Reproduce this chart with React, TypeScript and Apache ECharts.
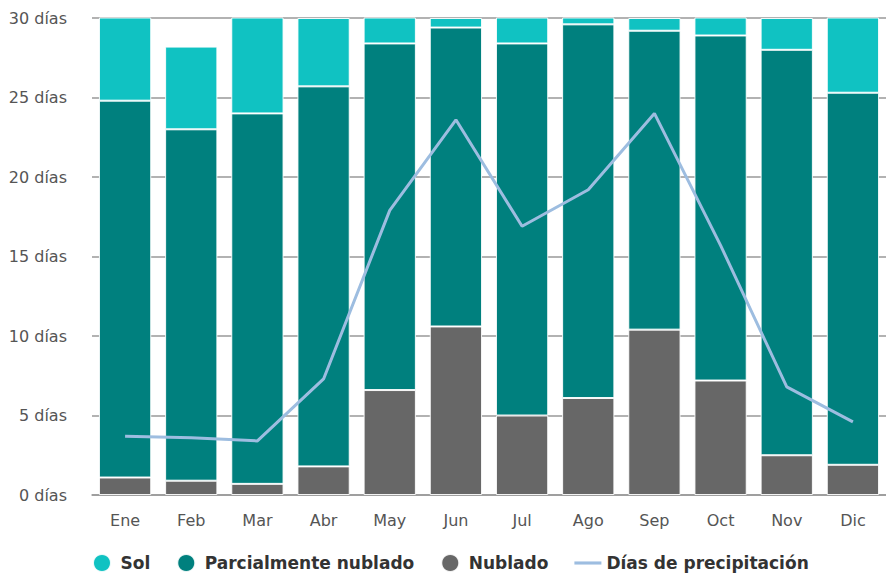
import React, { useEffect, useRef } from "react";
import * as echarts from "echarts";

const months = ["Ene", "Feb", "Mar", "Abr", "May", "Jun", "Jul", "Ago", "Sep", "Oct", "Nov", "Dic"];
const nublado = [1.1, 0.9, 0.7, 1.8, 6.6, 10.6, 5.0, 6.1, 10.4, 7.2, 2.5, 1.9];
const parcial = [23.7, 22.1, 23.3, 23.9, 21.8, 18.8, 23.4, 23.5, 18.8, 21.7, 25.5, 23.4];
const sol = [6.2, 5.2, 7.0, 4.3, 2.6, 0.6, 2.6, 1.4, 0.8, 2.1, 2.0, 5.7];
const precip = [3.7, 3.6, 3.4, 7.3, 17.9, 23.6, 16.9, 19.2, 24.0, 15.7, 6.8, 4.6];
const yTicks = [0, 5, 10, 15, 20, 25, 30];

const FONT = "DejaVu Sans";

export default function App() {
  const ref = useRef<HTMLDivElement>(null);
  useEffect(() => {
    if (!ref.current) return;
    const chart = echarts.init(ref.current, undefined, { renderer: "svg" });
    const barStyle = (color: string) => ({
      color,
      borderColor: "rgba(255,255,255,0.9)",
      borderWidth: 1,
    });
    chart.setOption({
      animation: false,
      textStyle: { fontFamily: FONT },
      grid: { left: 92, right: 0, top: 18, bottom: 81, containLabel: false },
      legend: {
        bottom: -2,
        left: 87,
        itemGap: 26,
        itemWidth: 27,
        itemHeight: 18,
        textStyle: { fontFamily: FONT, fontSize: 17, fontWeight: "bold", color: "#333" },
        data: [
          { name: "Sol", icon: "circle" },
          { name: "Parcialmente nublado", icon: "circle" },
          { name: "Nublado", icon: "circle" },
          { name: "Días de precipitación", icon: "path://M0 8 H26 V11 H0 Z" },
        ],
      },
      xAxis: {
        type: "category",
        data: months,
        axisLine: { lineStyle: { color: "#999", width: 1.5 } },
        axisTick: { show: false },
        axisLabel: { color: "#555", fontSize: 16, margin: 17, fontFamily: FONT },
      },
      yAxis: {
        type: "value",
        min: yTicks[0],
        max: yTicks[yTicks.length - 1],
        interval: 5,
        axisLine: { show: false },
        axisTick: { show: false },
        splitLine: { lineStyle: { color: "#999", width: 1.5 } },
        axisLabel: {
          color: "#555",
          fontSize: 16,
          margin: 25,
          fontFamily: FONT,
          formatter: (v: number) => `${v} días`,
        },
      },
      series: [
        {
          name: "Nublado",
          type: "bar",
          stack: "d",
          barWidth: "79%",
          data: nublado,
          itemStyle: barStyle("#676767"),
        },
        {
          name: "Parcialmente nublado",
          type: "bar",
          stack: "d",
          data: parcial,
          itemStyle: barStyle("#00807e"),
        },
        {
          name: "Sol",
          type: "bar",
          stack: "d",
          data: sol,
          itemStyle: barStyle("#10c2c2"),
        },
        {
          name: "Días de precipitación",
          type: "line",
          data: precip,
          showSymbol: false,
          symbol: "none",
          lineStyle: { color: "#9dbde0", width: 3 },
          itemStyle: { color: "#9dbde0" },
          z: 5,
        },
      ],
    });
    return () => chart.dispose();
  }, []);
  return <div ref={ref} style={{ width: 886, height: 576, position: "absolute", left: 0, top: 0 }} />;
}
